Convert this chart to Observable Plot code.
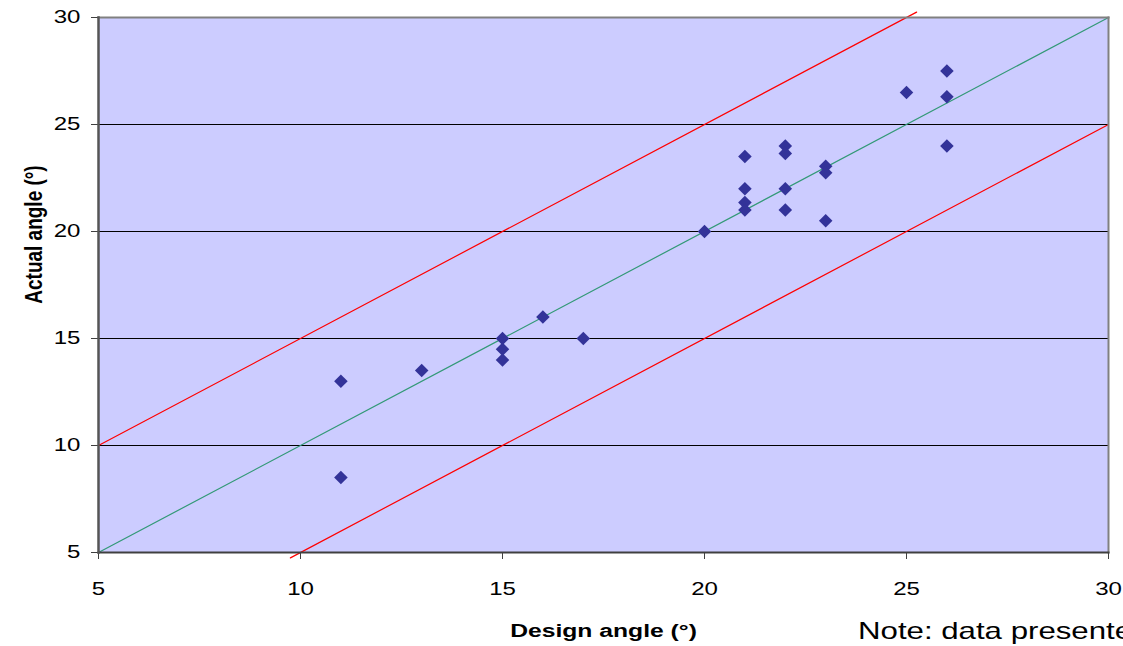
<!DOCTYPE html>
<html>
<head>
<meta charset="utf-8">
<script src="https://cdn.jsdelivr.net/npm/d3@7"></script>
<script src="https://cdn.jsdelivr.net/npm/@observablehq/plot@0.6"></script>
<style>
  html, body { margin: 0; padding: 0; background: #fff; overflow: hidden; }
  #wrap { position: relative; width: 1123px; height: 646px; overflow: hidden; }
  #note { position: absolute; left: 858px; top: 617px; font: 24px "Liberation Sans", Arial, sans-serif; color: #000; white-space: nowrap; transform: scaleX(1.3); transform-origin: 0 0; }
</style>
</head>
<body>
<div id="wrap"></div>
<script>
// Measured data: design angle vs actual angle (degrees)
const designAngle = [11, 11, 13, 15, 15, 15, 16, 17, 20, 21, 21, 21, 21, 22, 22, 22, 22, 23, 23, 23, 25, 26, 26, 26];
const actualAngle = [13, 8.5, 13.5, 15, 14.5, 14, 16, 15, 20, 23.5, 22, 21.35, 21, 24, 23.65, 22, 21, 23.05, 22.75, 20.5, 26.5, 27.5, 26.3, 24];

// Reference lines (x, y endpoints)
const idealX = [5, 30];
const idealY = [5, 30];
const upperX = [5, 25.25];
const upperY = [10, 30.25];
const lowerX = [9.75, 30];
const lowerY = [4.75, 25];

const xTicks = [5, 10, 15, 20, 25, 30];
const yTicks = [5, 10, 15, 20, 25, 30];
const gridY = [10, 15, 20, 25];

const points = designAngle.map((d, i) => ({x: d, y: actualAngle[i]}));
const line = (xs, ys) => xs.map((x, i) => ({x, y: ys[i]}));

const chart = Plot.plot({
  width: 1123,
  height: 646,
  marginLeft: 98,
  marginRight: 15,
  marginTop: 17,
  marginBottom: 94,
  style: {fontFamily: "'Liberation Sans', Arial, sans-serif", fontSize: "18px", color: "#000", background: "#fff", overflow: "visible"},
  x: {domain: [5, 30], label: null},
  y: {domain: [5, 30], label: null},
  marks: [
    Plot.frame({fill: "#CCCCFF", stroke: null}),
    Plot.ruleY(gridY, {stroke: "#000", strokeWidth: 1}),
    Plot.line(line(idealX, idealY), {x: "x", y: "y", stroke: "#339977", strokeWidth: 1.2}),
    Plot.line(line(upperX, upperY), {x: "x", y: "y", stroke: "#FF0000", strokeWidth: 1.2}),
    Plot.line(line(lowerX, lowerY), {x: "x", y: "y", stroke: "#FF0000", strokeWidth: 1.2}),
    Plot.frame({anchor: "top", stroke: "#808080", strokeWidth: 2}),
    Plot.frame({anchor: "right", stroke: "#808080", strokeWidth: 2}),
    Plot.dot(points, {x: "x", y: "y", symbol: "diamond2", r: 6.1, fill: "#333399", stroke: "none"}),
    Plot.axisX({ticks: xTicks, tickSize: 7, tickPadding: 22, label: null, stroke: "#404040", fontSize: 18.5}),
    Plot.axisY({ticks: yTicks, tickSize: 7, tickPadding: 11, label: null, stroke: "#404040", fontSize: 18.5}),
    Plot.frame({anchor: "bottom", stroke: "#404040", strokeWidth: 2}),
    Plot.frame({anchor: "left", stroke: "#555555", strokeWidth: 2.5}),
    Plot.text(["Design angle (°)"], {frameAnchor: "bottom", dy: 84, fontWeight: "bold", fontSize: 19}),
    Plot.text(["Actual angle (°)"], {frameAnchor: "top-left", dx: -74, dy: 217, rotate: -90, fontWeight: "bold", fontSize: 19, textAnchor: "middle"})
  ]
});

// Widen the text horizontally, as in the reference (stretched export)
chart.querySelectorAll("text").forEach(t => {
  const tr = t.getAttribute("transform") || "";
  if (tr.includes("rotate")) t.setAttribute("transform", tr.replace("rotate", "scale(1.3,1) rotate"));
  else t.setAttribute("transform", (tr + " scale(1.3,1)").trim());
});

document.getElementById("wrap").appendChild(chart);
const note = document.createElement("div");
note.id = "note";
note.textContent = "Note: data presented";
document.getElementById("wrap").appendChild(note);
</script>
</body>
</html>
